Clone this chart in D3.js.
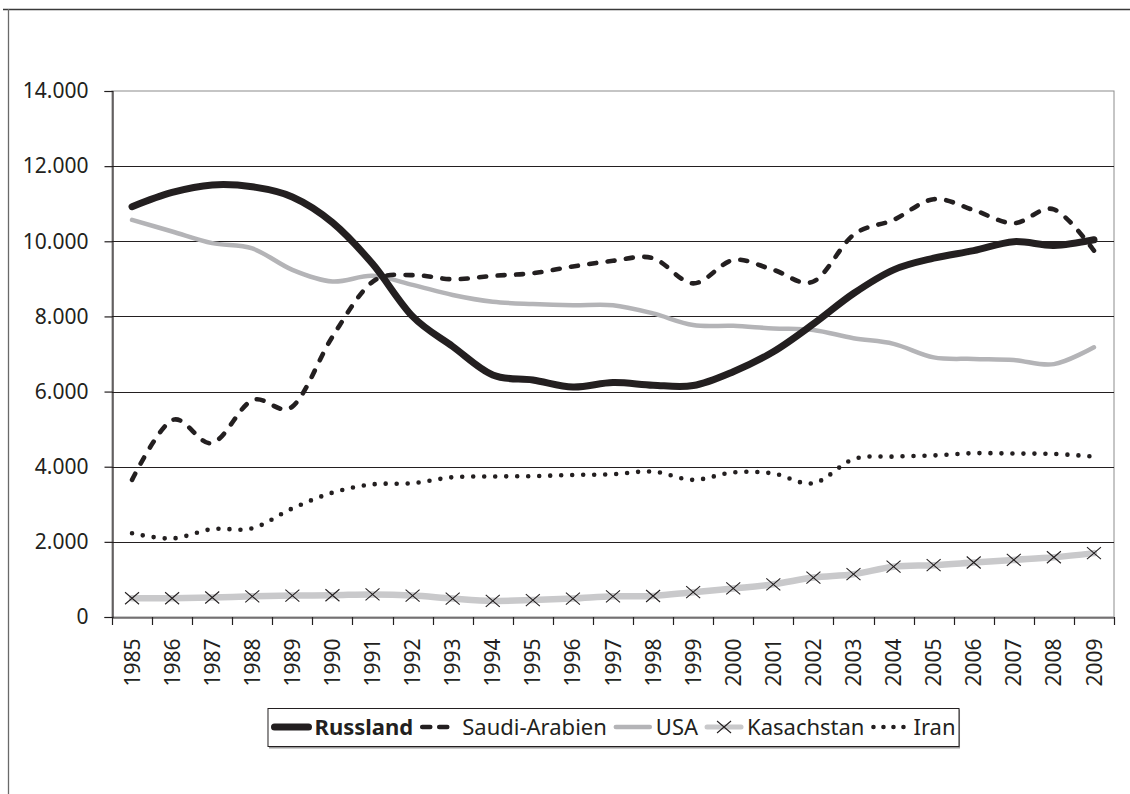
<!DOCTYPE html>
<html><head><meta charset="utf-8">
<script src="https://cdn.jsdelivr.net/npm/d3@7"></script>
<style>
body{margin:0;background:#fff}
svg{display:block}
text{font-family:"Noto Sans",sans-serif;fill:#231f20}
</style>
</head><body>
<svg id="c" width="1130" height="794"></svg>
<script>
const years = ["1985","1986","1987","1988","1989","1990","1991","1992","1993","1994","1995","1996","1997","1998","1999","2000","2001","2002","2003","2004","2005","2006","2007","2008","2009"];
const russland = [10920,11300,11500,11450,11180,10500,9400,8000,7200,6440,6310,6120,6240,6170,6160,6530,7060,7800,8610,9240,9550,9750,9990,9890,10040];
const saudiArabien = [3650,5240,4630,5770,5600,7460,8920,9100,8990,9080,9150,9330,9480,9550,8880,9500,9240,8930,10170,10570,11120,10830,10480,10850,9750];
const usa = [10570,10260,9950,9810,9240,8930,9080,8840,8570,8390,8330,8300,8300,8080,7770,7750,7680,7640,7420,7270,6910,6870,6840,6730,7180];
const kasachstan = [500,500,520,550,570,580,600,570,490,430,450,490,550,560,660,760,870,1050,1140,1340,1380,1450,1520,1590,1700];
const iran = [2230,2090,2340,2360,2890,3310,3530,3560,3720,3740,3750,3780,3800,3870,3650,3850,3820,3560,4200,4270,4300,4360,4350,4340,4270];
const yTicks = [0,2000,4000,6000,8000,10000,12000,14000];
const yTickLabels = ["0","2.000","4.000","6.000","8.000","10.000","12.000","14.000"];
const seriesNames = ["Russland","Saudi-Arabien","USA","Kasachstan","Iran"];

const svg = d3.select("#c");
const L = 112, R = 1114, T = 91, B = 617;
const FS = 21, LFS = 22;
const ink = "#231f20";

// outer frame (top + left)
svg.append("line").attr("x1",3).attr("x2",1130).attr("y1",9.5).attr("y2",9.5).attr("stroke","#3a3a3a").attr("stroke-width",1.3);
svg.append("line").attr("x1",8.5).attr("x2",8.5).attr("y1",9).attr("y2",794).attr("stroke","#6a6a6a").attr("stroke-width",1.3);

const x = d3.scaleBand().domain(years).range([L,R]).padding(0);
const cx = d => x(d) + x.bandwidth()/2;
const y = d3.scaleLinear().domain([0,14000]).range([B,T]);

// plot area border
svg.append("rect").attr("x",L).attr("y",T).attr("width",R-L).attr("height",B-T)
  .attr("fill","none").attr("stroke","#8c8c8c").attr("stroke-width",1);

// gridlines
svg.append("g").selectAll("line").data(yTicks.filter(v=>v>0 && v<14000)).join("line")
  .attr("x1",L).attr("x2",R).attr("y1",d=>Math.round(y(d))+0.5).attr("y2",d=>Math.round(y(d))+0.5)
  .attr("stroke",ink).attr("stroke-width",1);

// y axis
const yAxis = svg.append("g").attr("transform",`translate(${L+0.5},0)`)
  .call(d3.axisLeft(y).tickValues(yTicks).tickSize(8).tickPadding(16).tickFormat((d,i)=>yTickLabels[i]));
yAxis.select(".domain").attr("stroke",ink).attr("stroke-width",1.2);
yAxis.selectAll(".tick line").attr("stroke",ink).attr("stroke-width",1.2);
yAxis.selectAll(".tick text").attr("font-size",FS).attr("font-family","'Noto Sans',sans-serif").attr("fill",ink);

// x axis
const xAxis = svg.append("g").attr("transform",`translate(0,${B+0.5})`)
  .call(d3.axisBottom(x).tickSize(0).tickPadding(0));
xAxis.select(".domain").attr("stroke",ink).attr("stroke-width",1.2);
xAxis.selectAll(".tick text").attr("font-size",FS).attr("font-family","'Noto Sans',sans-serif").attr("fill",ink)
  .attr("transform","rotate(-90)").attr("text-anchor","end").attr("x",-21).attr("y",0).attr("dy","0.36em");
// boundary ticks
const bounds = years.map(d=>x(d)).concat([R]);
svg.append("g").selectAll("line").data(bounds).join("line")
  .attr("x1",d=>Math.round(d)+0.5).attr("x2",d=>Math.round(d)+0.5).attr("y1",B).attr("y2",B+8)
  .attr("stroke",ink).attr("stroke-width",1.2);

// lines
const curve = d3.curveCardinal.tension(0);
const mk = vals => d3.line().x((d,i)=>cx(years[i])).y(d=>y(d)).curve(curve)(vals);
const g = svg.append("g");

g.append("path").attr("d",mk(kasachstan)).attr("fill","none").attr("stroke","#c9c9cb").attr("stroke-width",6.5).attr("stroke-linecap","round");
g.append("g").selectAll("path").data(kasachstan).join("path")
  .attr("d",(d,i)=>{const px=cx(years[i]),py=y(d);return `M${px-7},${py-6}L${px+7},${py+6}M${px-7},${py+6}L${px+7},${py-6}`;})
  .attr("stroke",ink).attr("stroke-width",1.1).attr("fill","none");
g.append("path").attr("d",mk(iran)).attr("fill","none").attr("stroke",ink).attr("stroke-width",4.6)
  .attr("stroke-linecap","round").attr("stroke-dasharray","0,11");
g.append("path").attr("d",mk(usa)).attr("fill","none").attr("stroke","#b4b4b7").attr("stroke-width",4.5).attr("stroke-linecap","round");
g.append("path").attr("d",mk(saudiArabien)).attr("fill","none").attr("stroke",ink).attr("stroke-width",4.6)
  .attr("stroke-linecap","round").attr("stroke-dasharray","7,11.5");
g.append("path").attr("d",mk(russland)).attr("fill","none").attr("stroke",ink).attr("stroke-width",7).attr("stroke-linecap","round");

// legend
const styles = [
  {stroke:ink, w:7, dash:null, cap:"round", bold:true},
  {stroke:ink, w:4.6, dash:"8,9", cap:"round"},
  {stroke:"#b4b4b7", w:4.5, dash:null, cap:"round"},
  {stroke:"#c9c9cb", w:5, dash:null, cap:"round", marker:true},
  {stroke:ink, w:4.6, dash:"0,10", cap:"round"}
];
const legend = svg.append("g");
const ly = 727;
const sampleLen = 42, gapA = 2, gapB = 5;
let cur = 0;
seriesNames.forEach((name,i)=>{
  const st = styles[i];
  const it = legend.append("g");
  const x0 = cur;
  const ln = it.append("line").attr("x1",x0+4).attr("x2",x0+sampleLen-4).attr("y1",ly).attr("y2",ly)
    .attr("stroke",st.stroke).attr("stroke-width",st.w).attr("stroke-linecap",st.cap);
  if(st.dash) ln.attr("stroke-dasharray",st.dash);
  if(st.marker){
    const mx = x0+sampleLen/2;
    it.append("path").attr("d",`M${mx-7},${ly-6}L${mx+7},${ly+6}M${mx-7},${ly+6}L${mx+7},${ly-6}`).attr("stroke",ink).attr("stroke-width",1.1);
  }
  const t = it.append("text").attr("x",x0+sampleLen+gapA).attr("y",ly).attr("dy","0.35em")
    .attr("font-size",LFS).attr("font-weight",st.bold?"bold":"normal").text(name);
  const w = t.node().getComputedTextLength();
  cur = x0+sampleLen+gapA+w+gapB;
});
const total = cur - gapB;
const boxW = total + 6;
const boxX = 613 - boxW/2;
legend.attr("transform",`translate(${boxX+3},0)`);
svg.insert("rect","g").attr("x",boxX+1.5).attr("y",709.5).attr("width",boxW).attr("height",39).attr("fill","#9a9a9a");
svg.insert("rect","g").attr("x",boxX+0.5).attr("y",708.5).attr("width",boxW).attr("height",38).attr("fill","#fff").attr("stroke",ink).attr("stroke-width",1);
</script>
</body></html>
